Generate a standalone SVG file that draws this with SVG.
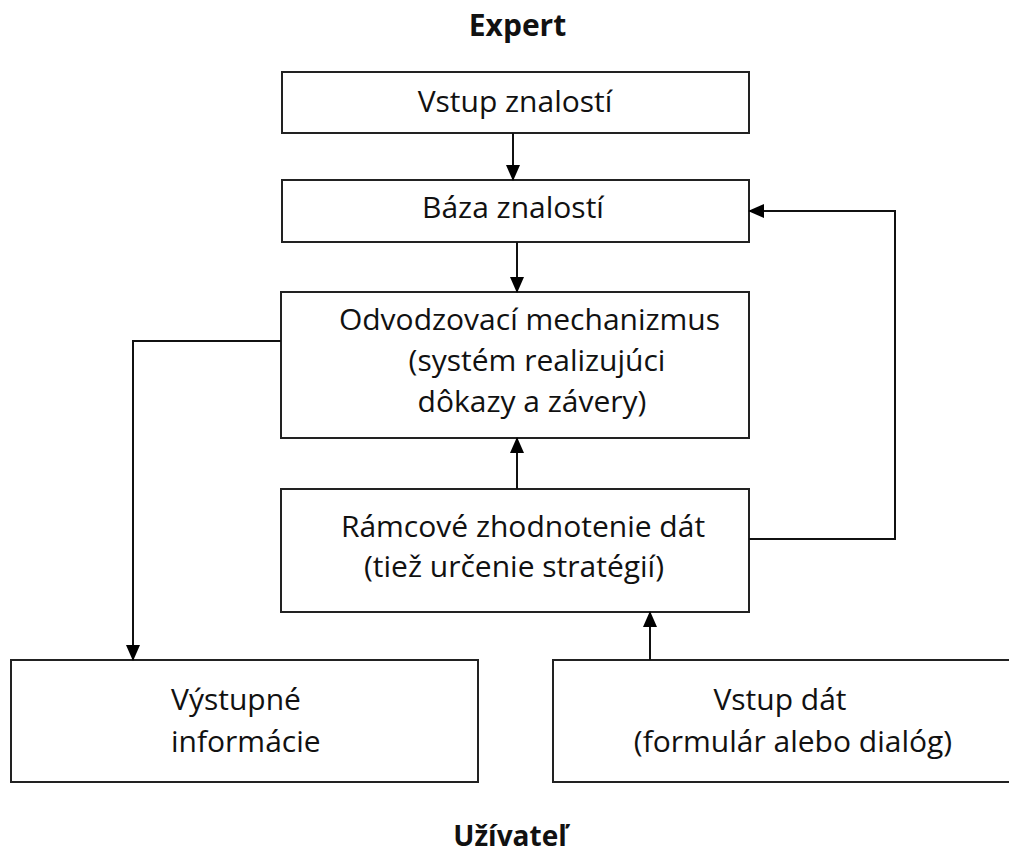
<svg xmlns="http://www.w3.org/2000/svg" width="1009" height="852" viewBox="0 0 1009 852">
<style>
.box{fill:#fff;stroke:#222;stroke-width:2}
.t{font-family:"Open Sans","Liberation Sans",sans-serif;font-size:30px;fill:#111}
.h{font-family:"Open Sans","Liberation Sans",sans-serif;font-weight:bold;fill:#111}
.c{fill:none;stroke:#111;stroke-width:2}
</style>
<defs>
<marker id="ah" markerWidth="16" markerHeight="14" refX="15" refY="7" orient="auto" markerUnits="userSpaceOnUse">
<path d="M0,0 L16,7 L0,14 Z" fill="#000"/>
</marker>
</defs>
<rect width="1009" height="852" fill="#fff"/>
<text class="h" x="517.5" y="36" font-size="30" text-anchor="middle">Expert</text>
<text class="h" x="510" y="846" font-size="28" text-anchor="middle">Užívateľ</text>
<g id="n1"><rect class="box" x="282" y="72" width="467" height="61"/><text class="t" x="515" y="112" text-anchor="middle">Vstup znalostí</text></g>
<g id="n2"><rect class="box" x="282" y="180" width="467" height="62"/><text class="t" x="513" y="218" text-anchor="middle">Báza znalostí</text></g>
<g id="n3"><rect class="box" x="281" y="292" width="468" height="146"/>
<text class="t" x="529.5" y="330" text-anchor="middle">Odvodzovací mechanizmus</text>
<text class="t" x="537" y="371" text-anchor="middle">(systém realizujúci</text>
<text class="t" x="532" y="412" text-anchor="middle">dôkazy a závery)</text></g>
<g id="n4"><rect class="box" x="281" y="489" width="468" height="123"/>
<text class="t" x="523" y="537" text-anchor="middle">Rámcové zhodnotenie dát</text>
<text class="t" x="514" y="577" text-anchor="middle">(tiež určenie stratégií)</text></g>
<g id="n5"><rect class="box" x="11" y="660" width="467" height="122"/>
<text class="t" x="171" y="710">Výstupné</text>
<text class="t" x="171" y="752">informácie</text></g>
<g id="n6"><rect class="box" x="553" y="660" width="470" height="122"/>
<text class="t" x="780" y="710" text-anchor="middle">Vstup dát</text>
<text class="t" x="793" y="752" text-anchor="middle">(formulár alebo dialóg)</text></g>
<g id="connectors">
<path class="c" d="M513,133 V180" marker-end="url(#ah)"/>
<path class="c" d="M517,242 V292" marker-end="url(#ah)"/>
<path class="c" d="M517,489 V438" marker-end="url(#ah)"/>
<path class="c" d="M650,660 V612" marker-end="url(#ah)"/>
<path class="c" d="M281,341 H133 V660" marker-end="url(#ah)"/>
<path class="c" d="M749,539 H895 V211 H749" marker-end="url(#ah)"/>
</g>
</svg>
